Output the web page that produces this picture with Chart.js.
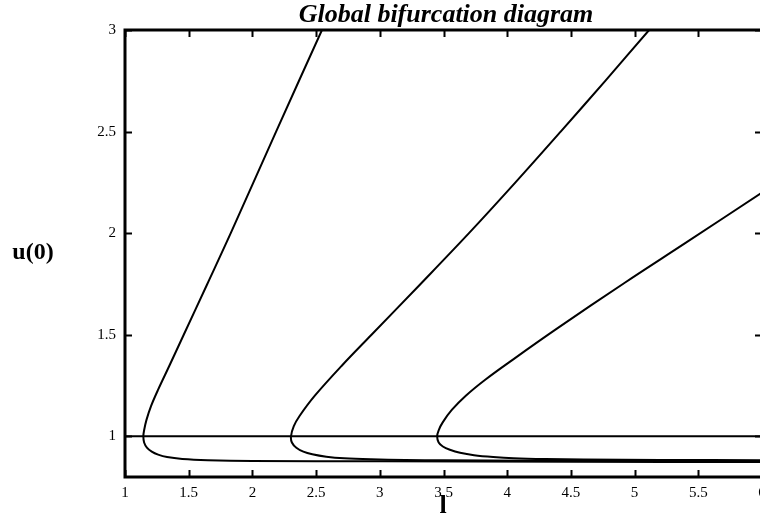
<!DOCTYPE html>
<html><head><meta charset="utf-8">
<script src="https://cdn.jsdelivr.net/npm/chart.js@4"></script>
<style>
html,body{margin:0;padding:0;overflow:hidden;background:#fff;width:760px;height:515px}
#wrap{width:800px;height:515px;position:relative}
</style></head>
<body><div id="wrap"><canvas id="c" width="800" height="515"></canvas></div>
<script>
const titleText = 'Global bifurcation diagram';
const xTitle = 'l';
const yTitle = 'u(0)';
const xTicks = [1, 1.5, 2, 2.5, 3, 3.5, 4, 4.5, 5, 5.5, 6];
const yTicks = [1, 1.5, 2, 2.5, 3];

// trivial branch u = 1
const trivialX = [1, 6];
const trivialU = [1, 1];

// branch 1 (from top of upper branch, through turning point, along lower branch)
const b1X = [2.546, 2.186, 1.83, 1.646, 1.461, 1.35, 1.26, 1.205, 1.168, 1.15, 1.144, 1.150, 1.172, 1.21, 1.26, 1.33, 1.45, 1.65, 2.0, 3.0, 4.5, 6.0];
const b1U = [3.0, 2.5, 2.0, 1.75, 1.5, 1.35, 1.23, 1.15, 1.08, 1.03, 1.0, 0.97, 0.945, 0.925, 0.91, 0.898, 0.889, 0.883, 0.879, 0.877, 0.875, 0.874];

// branch 2
const b2X = [5.114, 4.77, 4.42, 4.065, 3.70, 3.32, 2.935, 2.705, 2.49, 2.37, 2.325, 2.303, 2.31, 2.345, 2.40, 2.47, 2.58, 2.72, 2.93, 3.2, 3.5, 4.2, 6.0];
const b2U = [3.0, 2.75, 2.5, 2.25, 2.0, 1.75, 1.5, 1.35, 1.2, 1.1, 1.05, 1.0, 0.97, 0.944, 0.925, 0.912, 0.90, 0.892, 0.887, 0.884, 0.882, 0.880, 0.878];

// branch 3
const b3X = [6.0, 5.40, 4.92, 4.39, 4.045, 3.83, 3.675, 3.565, 3.495, 3.462, 3.45, 3.462, 3.495, 3.55, 3.63, 3.74, 3.89, 4.05, 4.3, 4.6, 5.2, 6.0];
const b3U = [2.2, 1.952, 1.755, 1.53, 1.378, 1.28, 1.2, 1.13, 1.07, 1.03, 1.0, 0.97, 0.95, 0.934, 0.919, 0.907, 0.898, 0.892, 0.888, 0.886, 0.884, 0.883];

const toPts = (xs, us) => xs.map((x, i) => ({x: x, y: us[i]}));
const lineStyle = {borderColor: '#000', borderWidth: 2, pointRadius: 0, showLine: true, fill: false};

const frame = {
  id: 'frame',
  afterDraw(chart) {
    const {ctx, chartArea: a, scales: {x, y}} = chart;
    ctx.save();
    ctx.strokeStyle = '#000';
    ctx.lineWidth = 2;
    ctx.beginPath();
    for (const v of xTicks) {
      const px = Math.round(x.getPixelForValue(v)) + 0.5;
      ctx.moveTo(px, a.bottom); ctx.lineTo(px, a.bottom - 7);
      ctx.moveTo(px, a.top); ctx.lineTo(px, a.top + 7);
    }
    for (const v of yTicks) {
      const py = Math.round(y.getPixelForValue(v)) + 0.5;
      ctx.moveTo(a.left, py); ctx.lineTo(a.left + 7, py);
      ctx.moveTo(a.right, py); ctx.lineTo(a.right - 7, py);
    }
    ctx.stroke();
    ctx.lineWidth = 3;
    ctx.strokeRect(a.left, a.top, a.right - a.left, a.bottom - a.top);
    ctx.fillStyle = '#000';
    ctx.textAlign = 'center';
    ctx.textBaseline = 'alphabetic';
    ctx.font = 'bold italic 26px "Liberation Serif"';
    ctx.fillText(titleText, (a.left + a.right) / 2 + 2.5, 22);
    ctx.font = 'bold 24px "Liberation Serif"';
    ctx.fillText(yTitle, 33, 259);
    ctx.font = 'bold 26px "Liberation Serif"';
    ctx.fillText(xTitle, 443, 513);
    ctx.restore();
  }
};

const tickFont = {family: '"Liberation Serif"', size: 15};

new Chart(document.getElementById('c'), {
  type: 'scatter',
  data: {
    datasets: [
      Object.assign({data: toPts(trivialX, trivialU), tension: 0}, lineStyle),
      Object.assign({data: toPts(b1X, b1U), tension: 0.35}, lineStyle),
      Object.assign({data: toPts(b2X, b2U), tension: 0.35}, lineStyle),
      Object.assign({data: toPts(b3X, b3U), tension: 0.35}, lineStyle)
    ]
  },
  options: {
    responsive: false,
    animation: false,
    devicePixelRatio: 1,
    layout: {padding: {left: 0, top: 30, right: 38, bottom: 0}},
    plugins: {legend: {display: false}, tooltip: {enabled: false}, title: {display: false}},
    scales: {
      x: {
        type: 'linear', min: 1, max: 6,
        afterBuildTicks: s => { s.ticks = xTicks.map(v => ({value: v})); },
        afterFit: s => { s.height = 38; },
        ticks: {font: tickFont, color: '#000', padding: 7, maxRotation: 0, autoSkip: false,
                callback: v => String(v)},
        grid: {display: false, drawTicks: false},
        border: {display: false}
      },
      y: {
        type: 'linear', min: 0.8, max: 3,
        afterBuildTicks: s => { s.ticks = yTicks.map(v => ({value: v})); },
        afterFit: s => { s.width = 125; },
        ticks: {font: tickFont, color: '#000', padding: 9, autoSkip: false,
                callback: v => String(v)},
        grid: {display: false, drawTicks: false},
        border: {display: false}
      }
    }
  },
  plugins: [frame]
});
</script>
</body></html>
